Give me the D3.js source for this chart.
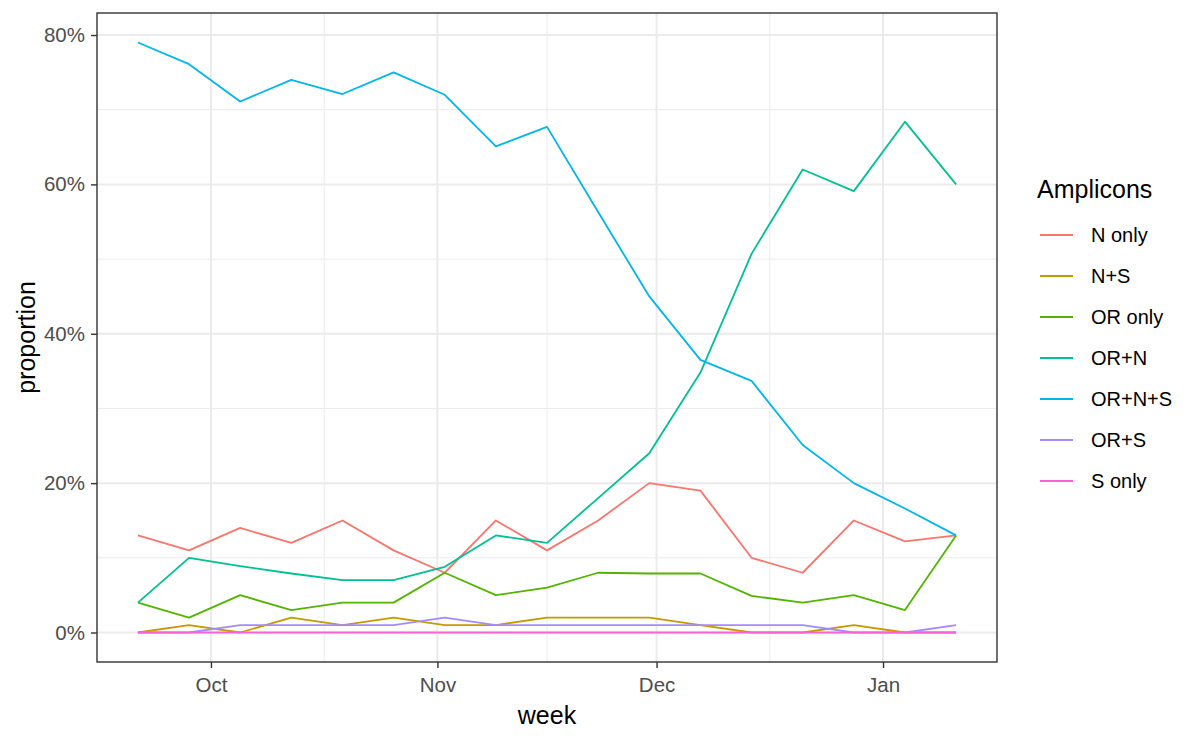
<!DOCTYPE html>
<html>
<head>
<meta charset="utf-8">
<script src="https://cdn.jsdelivr.net/npm/d3@7"></script>
<style>
  body { margin: 0; background: #fff; }
  svg { font-family: "Liberation Sans", Arial, sans-serif; }
</style>
</head>
<body>
<svg id="chart" width="1200" height="741"></svg>
<script>
/* data */
const weeks = [
  "2020-09-21", "2020-09-28", "2020-10-05", "2020-10-12", "2020-10-19",
  "2020-10-26", "2020-11-02", "2020-11-09", "2020-11-16", "2020-11-23",
  "2020-11-30", "2020-12-07", "2020-12-14", "2020-12-21", "2020-12-28",
  "2021-01-04", "2021-01-11",
];
const categories = ["N only", "N+S", "OR only", "OR+N", "OR+N+S", "OR+S", "S only"];
const nOnly = [0.13, 0.11, 0.14, 0.12, 0.15, 0.11, 0.08, 0.15, 0.11, 0.15, 0.20, 0.19, 0.10, 0.08, 0.15, 0.122, 0.13];
const nS = [0, 0.01, 0, 0.02, 0.01, 0.02, 0.01, 0.01, 0.02, 0.02, 0.02, 0.01, 0, 0, 0.01, 0, 0];
const orOnly = [0.04, 0.02, 0.05, 0.03, 0.04, 0.04, 0.08, 0.05, 0.06, 0.08, 0.079, 0.079, 0.049, 0.04, 0.05, 0.03, 0.13];
const orN = [0.04, 0.10, 0.089, 0.079, 0.07, 0.07, 0.088, 0.13, 0.12, 0.18, 0.24, 0.348, 0.507, 0.62, 0.591, 0.684, 0.60];
const orNS = [0.79, 0.761, 0.711, 0.74, 0.721, 0.75, 0.72, 0.651, 0.677, 0.563, 0.45, 0.365, 0.337, 0.251, 0.20, 0.166, 0.13];
const orS = [0, 0, 0.01, 0.01, 0.01, 0.01, 0.02, 0.01, 0.01, 0.01, 0.01, 0.01, 0.01, 0.01, 0, 0, 0.01];
const sOnly = [0, 0, 0, 0, 0, 0, 0, 0, 0, 0, 0, 0, 0, 0, 0, 0, 0];
const seriesValues = [nOnly, nS, orOnly, orN, orNS, orS, sOnly];
const yTicks = [0, 0.2, 0.4, 0.6, 0.8];
const colors = ["#F8766D", "#C49A00", "#53B400", "#00C094", "#00B6EB", "#A58AFF", "#FB61D7"];

const svg = d3.select("#chart");
const panel = { left: 97, right: 997, top: 13, bottom: 662 };

const dates = weeks.map((d) => d3.timeParse("%Y-%m-%d")(d));

// ggplot style 5% expansion on both axes
const xExt = d3.extent(dates);
const xPad = (xExt[1] - xExt[0]) * 0.05;
const x = d3
  .scaleTime()
  .domain([new Date(+xExt[0] - xPad), new Date(+xExt[1] + xPad)])
  .range([panel.left, panel.right]);

const yMax = d3.max(seriesValues.flat());
const yPad = yMax * 0.05;
const y = d3
  .scaleLinear()
  .domain([-yPad, yMax + yPad])
  .range([panel.bottom, panel.top]);

// grid
const monthTicks = x.ticks(d3.timeMonth.every(1));
const minorX = [];
for (let i = 0; i < monthTicks.length - 1; i++) {
  minorX.push(new Date((+monthTicks[i] + +monthTicks[i + 1]) / 2));
}
const minorY = [0.1, 0.3, 0.5, 0.7];

const grid = svg.append("g");
grid
  .selectAll(".minor-y")
  .data(minorY)
  .enter()
  .append("line")
  .attr("x1", panel.left)
  .attr("x2", panel.right)
  .attr("y1", (d) => y(d))
  .attr("y2", (d) => y(d))
  .attr("stroke", "#EBEBEB")
  .attr("stroke-width", 1);
grid
  .selectAll(".minor-x")
  .data(minorX)
  .enter()
  .append("line")
  .attr("x1", (d) => x(d))
  .attr("x2", (d) => x(d))
  .attr("y1", panel.top)
  .attr("y2", panel.bottom)
  .attr("stroke", "#EBEBEB")
  .attr("stroke-width", 1);
grid
  .selectAll(".major-y")
  .data(yTicks)
  .enter()
  .append("line")
  .attr("x1", panel.left)
  .attr("x2", panel.right)
  .attr("y1", (d) => y(d))
  .attr("y2", (d) => y(d))
  .attr("stroke", "#EBEBEB")
  .attr("stroke-width", 2);
grid
  .selectAll(".major-x")
  .data(monthTicks)
  .enter()
  .append("line")
  .attr("x1", (d) => x(d))
  .attr("x2", (d) => x(d))
  .attr("y1", panel.top)
  .attr("y2", panel.bottom)
  .attr("stroke", "#EBEBEB")
  .attr("stroke-width", 2);

// lines, drawn in factor order so S only ends on top
const line = d3
  .line()
  .x((d) => x(d.date))
  .y((d) => y(d.value));

svg
  .append("g")
  .selectAll("path")
  .data(categories.map((c, i) => ({
    name: c,
    color: colors[i],
    points: dates.map((dt, j) => ({ date: dt, value: seriesValues[i][j] })),
  })))
  .enter()
  .append("path")
  .attr("d", (d) => line(d.points))
  .attr("fill", "none")
  .attr("stroke", (d) => d.color)
  .attr("stroke-width", 1.8)
  .attr("stroke-linejoin", "round");

// panel border
svg
  .append("rect")
  .attr("x", panel.left)
  .attr("y", panel.top)
  .attr("width", panel.right - panel.left)
  .attr("height", panel.bottom - panel.top)
  .attr("fill", "none")
  .attr("stroke", "#333333")
  .attr("stroke-width", 1.4);

// axes
const yAxis = svg
  .append("g")
  .attr("transform", `translate(${panel.left},0)`)
  .call(d3.axisLeft(y).tickValues(yTicks).tickFormat(d3.format(".0%")).tickSizeInner(6).tickSizeOuter(0).tickPadding(6));
const xAxis = svg
  .append("g")
  .attr("transform", `translate(0,${panel.bottom})`)
  .call(d3.axisBottom(x).tickValues(monthTicks).tickFormat(d3.timeFormat("%b")).tickSizeInner(6).tickSizeOuter(0).tickPadding(9));

[yAxis, xAxis].forEach((a) => {
  a.select(".domain").remove();
  a.selectAll(".tick line").attr("stroke", "#333333").attr("stroke-width", 1.4);
  a.selectAll(".tick text")
    .attr("fill", "#4D4D4D")
    .style("font-size", "20.5px")
    .style("font-family", "'Liberation Sans', Arial, sans-serif");
});

// axis titles
svg
  .append("text")
  .attr("x", (panel.left + panel.right) / 2)
  .attr("y", 724)
  .attr("text-anchor", "middle")
  .style("font-size", "25px")
  .text("week");
svg
  .append("text")
  .attr("transform", `translate(35,${(panel.top + panel.bottom) / 2}) rotate(-90)`)
  .attr("text-anchor", "middle")
  .style("font-size", "25px")
  .text("proportion");

// legend
const legend = svg.append("g").attr("transform", "translate(1037,0)");
legend
  .append("text")
  .attr("x", 0)
  .attr("y", 198)
  .style("font-size", "25px")
  .text("Amplicons");
const item = legend
  .selectAll(".item")
  .data(categories)
  .enter()
  .append("g")
  .attr("transform", (d, i) => `translate(0,${235 + i * 41})`);
item
  .append("line")
  .attr("x1", 3)
  .attr("x2", 36)
  .attr("stroke", (d, i) => colors[i])
  .attr("stroke-width", 1.8);
item
  .append("text")
  .attr("x", 54)
  .attr("dy", "0.35em")
  .style("font-size", "20px")
  .text((d) => d);
</script>
</body>
</html>
